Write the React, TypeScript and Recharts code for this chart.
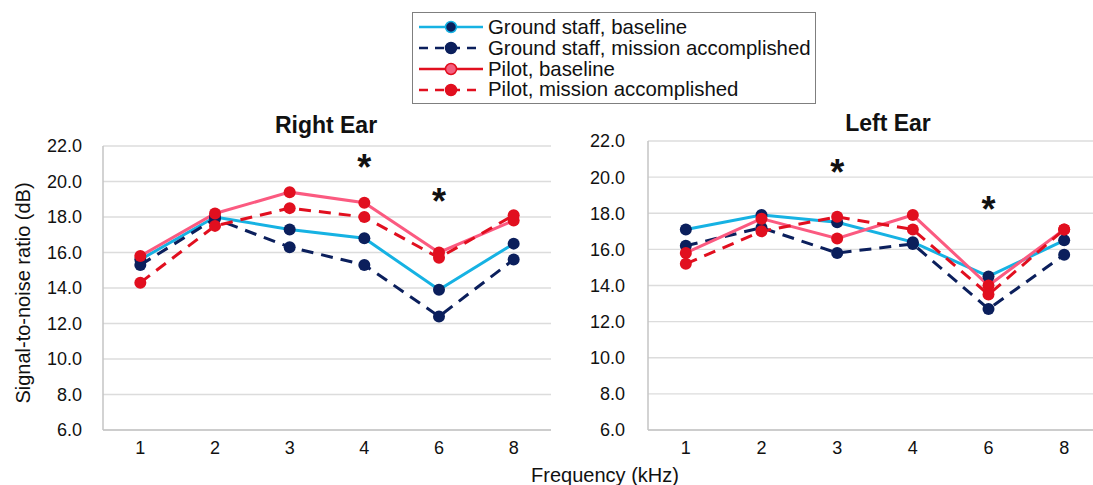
import { CartesianGrid, Line, LineChart, ReferenceDot, XAxis, YAxis } from 'recharts';

const freqs = ['1', '2', '3', '4', '6', '8'];
const yTicks = [6, 8, 10, 12, 14, 16, 18, 20, 22];

const rightGroundBase = [15.6, 18.0, 17.3, 16.8, 13.9, 16.5];
const rightGroundMission = [15.3, 17.9, 16.3, 15.3, 12.4, 15.6];
const rightPilotBase = [15.8, 18.2, 19.4, 18.8, 16.0, 17.8];
const rightPilotMission = [14.3, 17.5, 18.5, 18.0, 15.7, 18.1];

const leftGroundBase = [17.1, 17.9, 17.5, 16.4, 14.5, 16.5];
const leftGroundMission = [16.2, 17.2, 15.8, 16.3, 12.7, 15.7];
const leftPilotBase = [15.8, 17.7, 16.6, 17.9, 14.0, 17.1];
const leftPilotMission = [15.2, 17.0, 17.8, 17.1, 13.5, 17.1];

const rightStars = [
  { freq: '4', y: 21.2 },
  { freq: '6', y: 19.3 },
];
const leftStars = [
  { freq: '3', y: 20.65 },
  { freq: '6', y: 18.6 },
];

const CYAN = '#16b2e3';
const NAVY = '#0b1f5c';
const PINK = '#fb5a80';
const RED = '#e10f1f';
const FONT = '"Liberation Sans", Arial, sans-serif';

const series = [
  { key: 'gb', name: 'Ground staff, baseline', color: CYAN, dot: NAVY, dash: undefined, legendStroke: CYAN },
  { key: 'gm', name: 'Ground staff, mission accomplished', color: NAVY, dot: NAVY, dash: '12 8', legendStroke: NAVY },
  { key: 'pb', name: 'Pilot, baseline', color: PINK, dot: RED, dash: undefined, legendStroke: RED },
  { key: 'pm', name: 'Pilot, mission accomplished', color: RED, dot: RED, dash: '12 8', legendStroke: RED },
];

const build = (gb: number[], gm: number[], pb: number[], pm: number[]) =>
  freqs.map((f, i) => ({ freq: f, gb: gb[i], gm: gm[i], pb: pb[i], pm: pm[i] }));

const rightData = build(rightGroundBase, rightGroundMission, rightPilotBase, rightPilotMission);
const leftData = build(leftGroundBase, leftGroundMission, leftPilotBase, leftPilotMission);

const Star = (props: any) => (
  <text
    x={props.cx}
    y={props.cy}
    dy={20}
    textAnchor="middle"
    fontFamily={FONT}
    fontWeight="bold"
    fontSize={36}
    fill="#111"
  >
    *
  </text>
);

function EarChart({
  data,
  stars,
  width,
  top,
  right,
  tickMargin,
}: {
  data: any[];
  stars: Array<{ freq: string; y: number }>;
  width: number;
  top: number;
  right: number;
  tickMargin: number;
}) {
  return (
    <LineChart width={width} height={470} data={data} margin={{ top, right, bottom: 0, left: 0 }}>
      <CartesianGrid vertical={false} stroke="#dcdcdc" strokeWidth={1.3} />
      <XAxis
        dataKey="freq"
        scale="band"
        height={40}
        tickLine={false}
        stroke="#c4c4c4"
        strokeWidth={1.5}
        tickMargin={5}
        tick={{ fontSize: 18, fill: '#111', fontFamily: FONT }}
      />
      <YAxis
        domain={[6, 22]}
        ticks={yTicks}
        width={103}
        tickLine={false}
        stroke="#c4c4c4"
        strokeWidth={1.5}
        tickMargin={tickMargin}
        tickFormatter={(v: number) => v.toFixed(1)}
        tick={{ fontSize: 18, fill: '#111', fontFamily: FONT }}
      />
      {series.map((s) => (
        <Line
          key={s.key}
          dataKey={s.key}
          stroke={s.color}
          strokeWidth={3}
          strokeDasharray={s.dash}
          dot={{ r: 6, fill: s.dot, stroke: 'none', strokeDasharray: '0' }}
          isAnimationActive={false}
        />
      ))}
      {stars.map((st) => (
        <ReferenceDot key={st.freq} x={st.freq} y={st.y} r={0} shape={Star} />
      ))}
    </LineChart>
  );
}

function LegendBox() {
  return (
    <div
      style={{
        position: 'absolute',
        left: 412,
        top: 12,
        width: 404,
        height: 92,
        border: '1.5px solid #7f7f7f',
        boxSizing: 'border-box',
        fontFamily: FONT,
        fontSize: 20.4,
        color: '#111',
        paddingTop: 4,
      }}
    >
      {series.map((s) => (
        <div key={s.key} style={{ display: 'flex', alignItems: 'center', height: 20.8 }}>
          <svg width={74} height={20} style={{ marginLeft: 5, flex: 'none' }}>
            <line x1={1} y1={10} x2={65} y2={10} stroke={s.legendStroke} strokeWidth={2.5} strokeDasharray={s.dash ? '9 7' : undefined} />
            <circle cx={33} cy={10} r={5.5} fill={s.key === 'pb' ? '#f4607f' : s.dot} stroke={s.key === 'gb' ? CYAN : s.dot} strokeWidth={1.5} />
          </svg>
          <span style={{ marginLeft: -4, whiteSpace: 'nowrap' }}>{s.name}</span>
        </div>
      ))}
    </div>
  );
}

export default function App() {
  return (
    <div
      style={{
        position: 'absolute',
        left: 0,
        top: 0,
        width: 1093,
        height: 485,
        overflow: 'hidden',
        background: '#fff',
        fontFamily: FONT,
      }}
    >
      <LegendBox />
      <div style={{ position: 'absolute', left: 0, top: 0 }}>
        <EarChart data={rightData} stars={rightStars} width={560} top={146} right={9} tickMargin={15} />
      </div>
      <div style={{ position: 'absolute', left: 545, top: 0 }}>
        <EarChart data={leftData} stars={leftStars} width={557} top={141} right={0} tickMargin={17} />
      </div>
      <div style={{ position: 'absolute', left: 226, top: 111, width: 200, textAlign: 'center', fontSize: 23, fontWeight: 'bold', lineHeight: '28px', color: '#111' }}>
        Right Ear
      </div>
      <div style={{ position: 'absolute', left: 788, top: 109, width: 200, textAlign: 'center', fontSize: 23, fontWeight: 'bold', lineHeight: '28px', color: '#111' }}>
        Left Ear
      </div>
      <div
        style={{
          position: 'absolute',
          left: 23 - 150,
          top: 293 - 12,
          width: 300,
          height: 24,
          lineHeight: '24px',
          textAlign: 'center',
          fontSize: 20,
          color: '#111',
          transform: 'rotate(-90deg)',
        }}
      >
        Signal-to-noise ratio (dB)
      </div>
      <div style={{ position: 'absolute', left: 455, top: 463, width: 300, textAlign: 'center', fontSize: 20, lineHeight: '24px', color: '#111' }}>
        Frequency (kHz)
      </div>
    </div>
  );
}
